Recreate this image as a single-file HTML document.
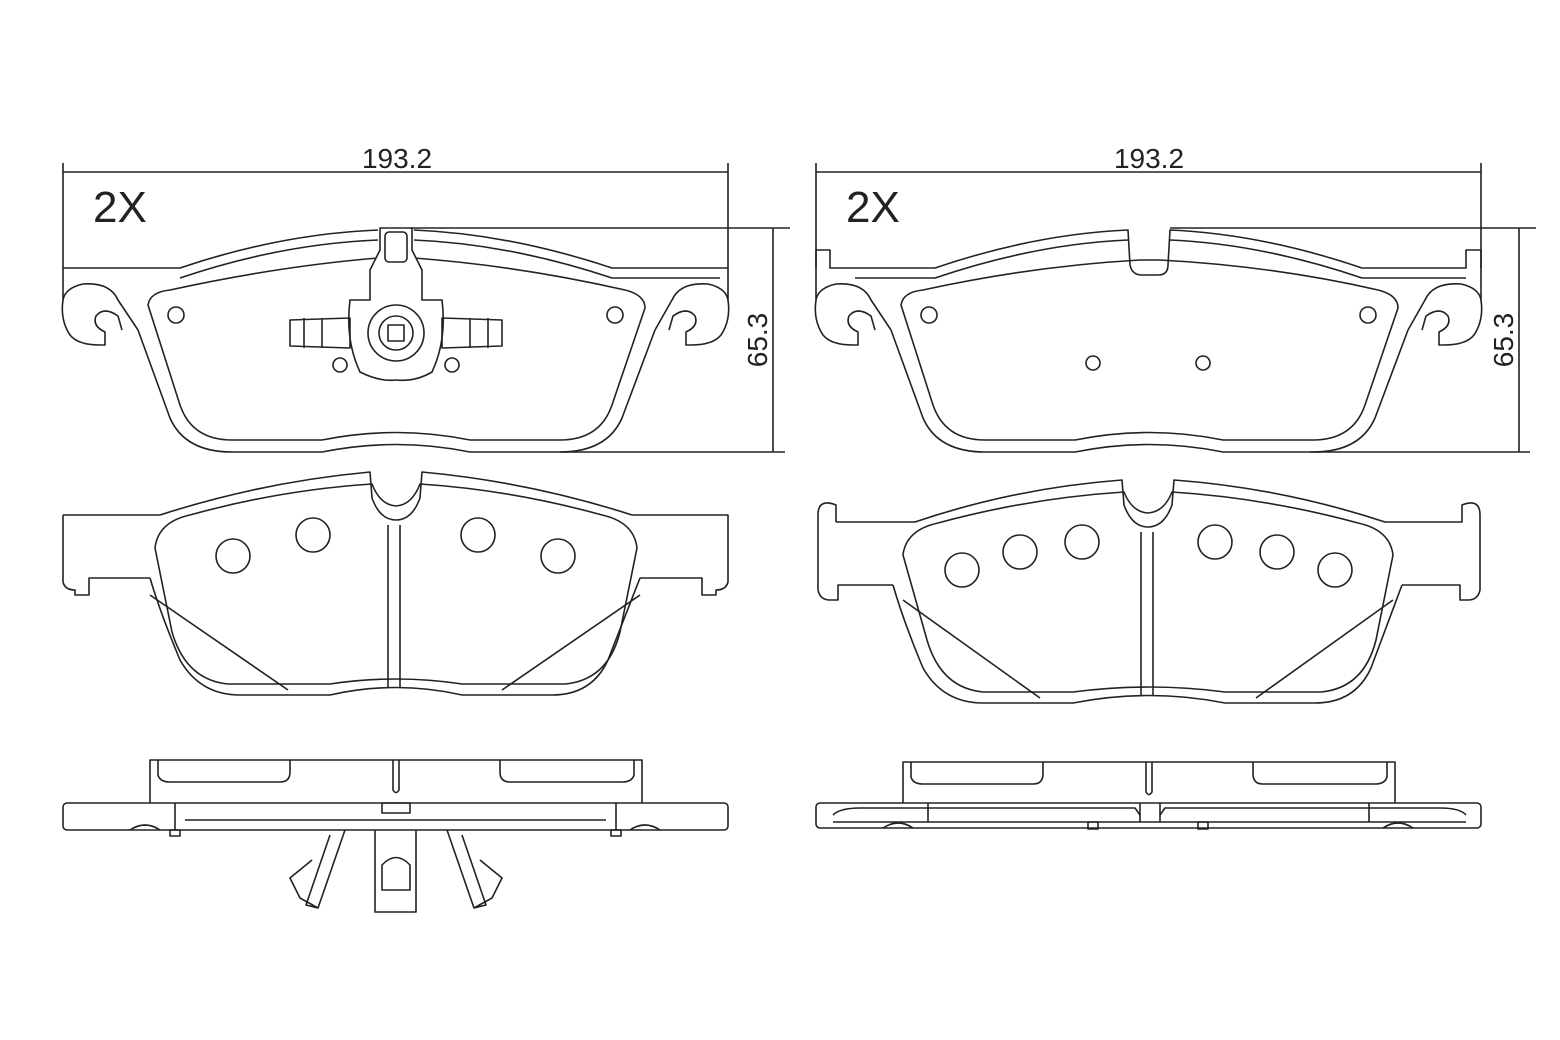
<!DOCTYPE html>
<html><head><meta charset="utf-8"><style>
html,body{margin:0;padding:0;background:#fff;}
svg{display:block;}
text{font-family:"Liberation Sans",sans-serif;fill:#222;}
</style></head><body>
<svg width="1560" height="1040" viewBox="0 0 1560 1040" xmlns="http://www.w3.org/2000/svg">
<g fill="none" stroke="#222" stroke-width="1.6" stroke-linejoin="round">

<!-- ===== LEFT COLUMN ===== -->
<line x1="63" y1="172" x2="728" y2="172"/>
<line x1="63" y1="163" x2="63" y2="268"/>
<line x1="728" y1="163" x2="728" y2="268"/>
<line x1="773" y1="228" x2="773" y2="452"/>
<line x1="410" y1="228" x2="790" y2="228"/>
<line x1="560" y1="452" x2="785" y2="452"/>

<path d="M63,268 L180,268 Q280,234 378,230 M414,230 Q510,234 612,268 L728,268 L728,300 Q726,288 708,284 Q680,282 672,300 L655,330 M63,268 L63,300 Q65,288 83,284 Q110,282 118,300 L138,330"/>
<path d="M63,300 Q60,320 70,335 Q78,345 100,345 L105,345 L105,332 Q92,326 96,316 Q104,306 118,316 L122,330"/>
<path d="M728,300 Q731,320 721,335 Q713,345 691,345 L686,345 L686,332 Q699,326 695,316 Q687,306 673,316 L669,330"/>
<path d="M180,278 Q280,244 378,240 M414,240 Q510,244 612,278 L720,278"/>
<path d="M148,305 Q150,292 170,290 Q280,266 378,258 L414,258 Q520,266 625,290 Q645,295 645,308 L612,405 Q600,440 560,440 L470,440 Q396,425 322,440 L232,440 Q192,440 180,405 Z"/>
<path d="M138,330 L170,418 Q185,452 232,452 L322,452 Q396,437 470,452 L560,452 Q607,452 622,418 L655,330"/>
<circle cx="176" cy="315" r="8"/>
<circle cx="615" cy="315" r="8"/>
<!-- clip assembly -->
<path d="M380,228 L380,250 L370,270 L370,300 L350,300 Q345,340 360,372 Q380,382 396,380 Q415,382 432,372 Q447,340 442,300 L422,300 L422,270 L412,250 L412,228 Z" fill="#fff"/>
<rect x="385" y="232" width="22" height="30" rx="4"/>
<circle cx="396" cy="333" r="28"/>
<circle cx="396" cy="333" r="17"/>
<rect x="388" y="325" width="16" height="16"/>
<path d="M290,320 L350,318 L350,348 L290,346 Z M304,318 L304,348 M322,318 L322,348"/>
<path d="M502,320 L442,318 L442,348 L502,346 Z M488,318 L488,348 M470,318 L470,348"/>
<circle cx="340" cy="365" r="7"/>
<circle cx="452" cy="365" r="7"/>

<!-- middle pad left -->
<path d="M63,515 L160,515 Q262,482 370,472 L372,498 Q380,520 396,520 Q412,520 420,498 L422,472 Q530,482 632,515 L728,515 L728,582 Q726,590 716,590 L716,595 L702,595 L702,578 L652,578 L640,578 M63,515 L63,582 Q65,590 75,590 L75,595 L89,595 L89,578 L140,578 L150,578"/>
<path d="M150,578 Q160,612 180,660 Q200,695 240,695 L330,695 Q396,680 462,695 L552,695 Q592,695 608,660 L640,578"/>
<path d="M155,548 Q158,522 190,515 Q280,490 372,484 Q380,505 396,506 Q412,505 420,484 Q512,490 602,515 Q634,522 637,548 L620,632 Q608,680 565,684 L462,684 Q396,674 330,684 L228,684 Q186,680 172,632 Z"/>
<line x1="388" y1="525" x2="388" y2="688"/>
<line x1="400" y1="525" x2="400" y2="688"/>
<line x1="150" y1="595" x2="288" y2="690"/>
<line x1="640" y1="595" x2="502" y2="690"/>
<circle cx="233" cy="556" r="17"/>
<circle cx="313" cy="535" r="17"/>
<circle cx="478" cy="535" r="17"/>
<circle cx="558" cy="556" r="17"/>

<!-- side view left -->
<path d="M150,803 L150,760 L642,760 L642,803"/>
<path d="M158,760 L158,775 Q160,782 170,782 L280,782 Q290,782 290,772 L290,760"/>
<path d="M500,760 L500,772 Q500,782 510,782 L622,782 Q632,782 634,775 L634,760"/>
<path d="M393,760 L393,790 Q396,795 399,790 L399,760"/>
<rect x="63" y="803" width="665" height="27" rx="4"/>
<line x1="175" y1="803" x2="175" y2="830"/>
<line x1="616" y1="803" x2="616" y2="830"/>
<line x1="185" y1="820" x2="606" y2="820"/>
<path d="M130,830 Q145,820 160,830 M630,830 Q645,820 660,830"/>
<rect x="170" y="830" width="10" height="6"/>
<rect x="611" y="830" width="10" height="6"/>
<rect x="382" y="803" width="28" height="10"/>
<path d="M375,830 L375,912 L416,912 L416,830 M382,865 Q396,850 410,865 L410,890 L382,890 Z"/>
<path d="M345,830 L318,908 L306,905 L330,835 M447,830 L474,908 L486,905 L462,835"/>
<path d="M312,860 L290,878 L300,898 L318,908 M480,860 L502,878 L492,898 L474,908"/>

<!-- ===== RIGHT COLUMN ===== -->
<line x1="816" y1="172" x2="1481" y2="172"/>
<line x1="816" y1="163" x2="816" y2="268"/>
<line x1="1481" y1="163" x2="1481" y2="268"/>
<line x1="1519" y1="228" x2="1519" y2="452"/>
<line x1="1170" y1="228" x2="1536" y2="228"/>
<line x1="1310" y1="452" x2="1530" y2="452"/>

<path d="M816,250 L816,300 M816,250 L830,250 L830,268 L935,268 Q1035,234 1128,230 L1130,265 Q1132,275 1142,275 L1158,275 Q1168,275 1168,265 L1170,230 Q1262,234 1362,268 L1466,268 L1466,250 L1481,250 L1481,300 Q1479,288 1461,284 Q1433,282 1425,300 L1408,330 M816,300 Q818,288 836,284 Q863,282 871,300 L891,330"/>
<path d="M816,300 Q813,320 823,335 Q831,345 853,345 L858,345 L858,332 Q845,326 849,316 Q857,306 871,316 L875,330"/>
<path d="M1481,300 Q1484,320 1474,335 Q1466,345 1444,345 L1439,345 L1439,332 Q1452,326 1448,316 Q1440,306 1426,316 L1422,330"/>
<path d="M855,278 L935,278 Q1035,244 1128,240 M1170,240 Q1262,244 1362,278 L1466,278"/>
<path d="M901,305 Q903,292 923,290 Q1033,266 1140,260 L1160,260 Q1273,266 1378,290 Q1398,295 1398,308 L1365,405 Q1353,440 1313,440 L1223,440 Q1149,425 1075,440 L985,440 Q945,440 933,405 Z"/>
<path d="M891,330 L923,418 Q938,452 985,452 L1075,452 Q1149,437 1223,452 L1313,452 Q1360,452 1375,418 L1408,330"/>
<circle cx="929" cy="315" r="8"/>
<circle cx="1368" cy="315" r="8"/>
<circle cx="1093" cy="363" r="7"/>
<circle cx="1203" cy="363" r="7"/>

<!-- middle pad right -->
<path d="M836,522 L915,522 Q1015,488 1122,480 L1124,505 Q1132,527 1148,527 Q1164,527 1172,505 L1174,480 Q1282,488 1385,522 L1462,522 L1462,505 Q1480,498 1480,515 L1480,590 Q1478,600 1468,600 L1460,600 L1460,585 L1402,585 M836,522 L836,505 Q818,498 818,515 L818,590 Q820,600 830,600 L838,600 L838,585 L893,585"/>
<path d="M893,585 Q903,620 923,668 Q943,703 983,703 L1073,703 Q1149,688 1225,703 L1315,703 Q1355,703 1371,668 L1402,585"/>
<path d="M903,555 Q906,530 938,523 Q1030,498 1124,492 Q1132,512 1148,513 Q1164,512 1172,492 Q1266,498 1358,523 Q1390,530 1393,555 L1376,640 Q1364,688 1321,692 L1225,692 Q1149,682 1073,692 L983,692 Q941,688 927,640 Z"/>
<line x1="1141" y1="532" x2="1141" y2="696"/>
<line x1="1153" y1="532" x2="1153" y2="696"/>
<line x1="903" y1="600" x2="1040" y2="698"/>
<line x1="1393" y1="600" x2="1256" y2="698"/>
<circle cx="962" cy="570" r="17"/>
<circle cx="1020" cy="552" r="17"/>
<circle cx="1082" cy="542" r="17"/>
<circle cx="1215" cy="542" r="17"/>
<circle cx="1277" cy="552" r="17"/>
<circle cx="1335" cy="570" r="17"/>

<!-- side view right -->
<path d="M903,803 L903,762 L1395,762 L1395,803"/>
<path d="M911,762 L911,777 Q913,784 923,784 L1033,784 Q1043,784 1043,774 L1043,762"/>
<path d="M1253,762 L1253,774 Q1253,784 1263,784 L1375,784 Q1385,784 1387,777 L1387,762"/>
<path d="M1146,762 L1146,792 Q1149,797 1152,792 L1152,762"/>
<rect x="816" y="803" width="665" height="25" rx="4"/>
<path d="M833,815 Q840,808 860,808 L1135,808 L1140,815 M1160,815 L1165,808 L1440,808 Q1460,808 1466,815"/>
<line x1="928" y1="803" x2="928" y2="822"/>
<line x1="1369" y1="803" x2="1369" y2="822"/>
<line x1="1140" y1="803" x2="1140" y2="822"/>
<line x1="1160" y1="803" x2="1160" y2="822"/>
<line x1="833" y1="822" x2="1466" y2="822"/>
<path d="M883,828 Q898,818 913,828 M1383,828 Q1398,818 1413,828"/>
<rect x="1088" y="822" width="10" height="7"/>
<rect x="1198" y="822" width="10" height="7"/>
</g>

<g font-size="28">
<text x="397" y="168" text-anchor="middle">193.2</text>
<text x="1149" y="168" text-anchor="middle">193.2</text>
<text x="93" y="222" font-size="44">2X</text>
<text x="846" y="222" font-size="44">2X</text>
<text transform="translate(767,340) rotate(-90)" text-anchor="middle">65.3</text>
<text transform="translate(1513,340) rotate(-90)" text-anchor="middle">65.3</text>
</g>
</svg>
</body></html>
